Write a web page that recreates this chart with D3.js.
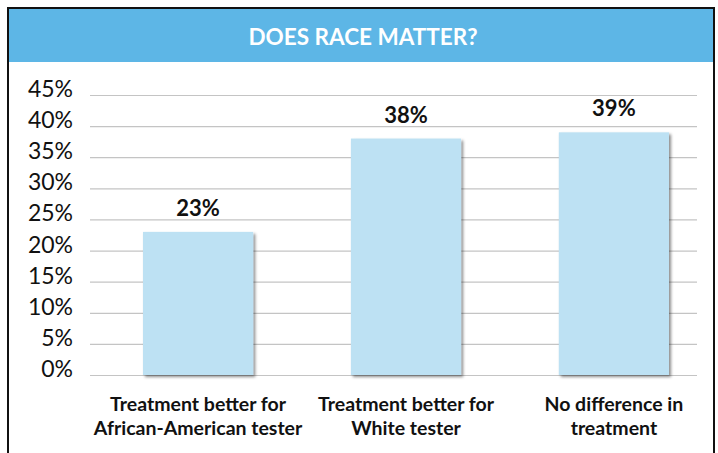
<html>
<head>
<style>
  body { margin: 0; background: #fff; }
  text { font-family: Lato, "Open Sans", sans-serif; }
</style>
</head>
<body>
<script src="https://d3js.org/d3.v7.min.js"></script>
<script>
var w = 718, h = 453;

var title = 'DOES RACE MATTER?';
var categories = [
  ['Treatment better for', 'African-American tester'],
  ['Treatment better for', 'White tester'],
  ['No difference in', 'treatment']
];
var values = [23, 38, 39];
var ticks = [0, 5, 10, 15, 20, 25, 30, 35, 40, 45];

var svg = d3.select('body').append('svg')
  .attr('width', w)
  .attr('height', h);

var defs = svg.append('defs');
var f = defs.append('filter').attr('id', 'shadow')
  .attr('x', '-10%').attr('y', '-10%').attr('width', '130%').attr('height', '130%');
f.append('feDropShadow')
  .attr('dx', 2).attr('dy', 2).attr('stdDeviation', 1.5)
  .attr('flood-color', '#000').attr('flood-opacity', 0.45);

// frame + header
svg.append('rect')
  .attr('x', 8).attr('y', 8).attr('width', 706).attr('height', 460)
  .attr('fill', '#fff').attr('stroke', '#111').attr('stroke-width', 2);
svg.append('rect')
  .attr('x', 9).attr('y', 9).attr('width', 704).attr('height', 53)
  .attr('fill', '#5db6e6');
svg.append('text')
  .attr('x', 363).attr('y', 45)
  .attr('text-anchor', 'middle')
  .attr('fill', '#fff')
  .style('font-size', '22.5px').style('font-weight', 'bold')
  .text(title);

var x = d3.scaleBand()
  .domain(d3.range(categories.length))
  .range([143, 669])
  .paddingInner(0.47)
  .paddingOuter(0);

var y = d3.scaleLinear()
  .domain([0, 45])
  .range([375, 95]);

// grid
svg.append('g')
  .attr('transform', 'translate(90,0)')
  .call(d3.axisLeft(y).tickValues(ticks).tickSize(-607).tickFormat(''))
  .call(g => g.select('.domain').remove())
  .call(g => g.selectAll('line').attr('stroke', '#c4c4c4').attr('stroke-width', 1.2));

// y labels
svg.append('g')
  .selectAll('text')
  .data(ticks)
  .enter()
  .append('text')
  .attr('x', 73)
  .attr('y', d => y(d) + 2)
  .attr('text-anchor', 'end')
  .attr('fill', '#111')
  .style('font-size', '23px')
  .text(d => d + '%');

// bars
svg.append('g')
  .selectAll('rect')
  .data(values)
  .enter()
  .append('rect')
  .attr('x', (d, i) => x(i))
  .attr('y', d => y(d))
  .attr('width', x.bandwidth())
  .attr('height', d => y(0) - y(d))
  .attr('fill', '#bde1f3')
  .attr('filter', 'url(#shadow)');

// value labels
svg.append('g')
  .selectAll('text')
  .data(values)
  .enter()
  .append('text')
  .attr('x', (d, i) => x(i) + x.bandwidth() / 2)
  .attr('y', d => y(d) - 16)
  .attr('text-anchor', 'middle')
  .attr('fill', '#111')
  .style('font-size', '22px').style('font-weight', 'bold')
  .text(d => d + '%');

// category labels
var cat = svg.append('g')
  .selectAll('text')
  .data(categories)
  .enter()
  .append('text')
  .attr('x', (d, i) => x(i) + x.bandwidth() / 2)
  .attr('y', 411)
  .attr('text-anchor', 'middle')
  .attr('fill', '#111')
  .style('font-size', '19.5px').style('font-weight', 'bold');
cat.selectAll('tspan')
  .data(d => d)
  .enter()
  .append('tspan')
  .attr('x', function() { return d3.select(this.parentNode).attr('x'); })
  .attr('dy', (d, i) => i ? 24 : 0)
  .text(d => d);
</script>
</body>
</html>
